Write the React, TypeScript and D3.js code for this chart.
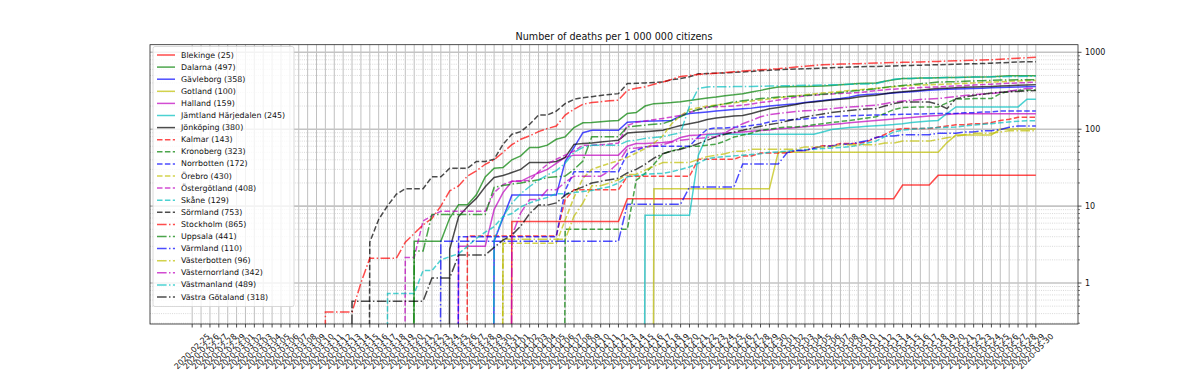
import React, { Component } from 'react';
import * as d3 from 'd3';

// one label per day, 2020-02-25 .. 2020-05-30
const dates = [
  "2020-02-25", "2020-02-26", "2020-02-27", "2020-02-28", "2020-02-29",
  "2020-03-01", "2020-03-02", "2020-03-03", "2020-03-04", "2020-03-05", "2020-03-06", "2020-03-07", "2020-03-08", "2020-03-09", "2020-03-10",
  "2020-03-11", "2020-03-12", "2020-03-13", "2020-03-14", "2020-03-15", "2020-03-16", "2020-03-17", "2020-03-18", "2020-03-19", "2020-03-20",
  "2020-03-21", "2020-03-22", "2020-03-23", "2020-03-24", "2020-03-25", "2020-03-26", "2020-03-27", "2020-03-28", "2020-03-29", "2020-03-30", "2020-03-31",
  "2020-04-01", "2020-04-02", "2020-04-03", "2020-04-04", "2020-04-05", "2020-04-06", "2020-04-07", "2020-04-08", "2020-04-09", "2020-04-10",
  "2020-04-11", "2020-04-12", "2020-04-13", "2020-04-14", "2020-04-15", "2020-04-16", "2020-04-17", "2020-04-18", "2020-04-19", "2020-04-20",
  "2020-04-21", "2020-04-22", "2020-04-23", "2020-04-24", "2020-04-25", "2020-04-26", "2020-04-27", "2020-04-28", "2020-04-29", "2020-04-30",
  "2020-05-01", "2020-05-02", "2020-05-03", "2020-05-04", "2020-05-05", "2020-05-06", "2020-05-07", "2020-05-08", "2020-05-09", "2020-05-10",
  "2020-05-11", "2020-05-12", "2020-05-13", "2020-05-14", "2020-05-15", "2020-05-16", "2020-05-17", "2020-05-18", "2020-05-19", "2020-05-20",
  "2020-05-21", "2020-05-22", "2020-05-23", "2020-05-24", "2020-05-25", "2020-05-26", "2020-05-27", "2020-05-28", "2020-05-29", "2020-05-30"
];

const yTickLabels = [1, 10, 100, 1000];

// cumulative deaths per million, one value per day (rows: feb / mar / apr / may)
const blekinge = [
  0, 0, 0, 0, 0,
  0, 0, 0, 0, 0, 0, 0, 0, 0, 0, 0, 0, 0, 0, 0, 0, 0, 0, 0, 0, 0, 0, 0, 0, 0, 0, 0, 0, 0, 0, 0,
  6.3, 6.3, 6.3, 6.3, 6.3, 6.3, 6.3, 6.3, 6.3, 6.3, 6.3, 6.3, 6.3, 12.5, 12.5, 12.5, 12.5, 12.5, 12.5, 12.5, 12.5, 12.5, 12.5, 12.5, 12.5, 12.5, 12.5, 12.5, 12.5, 12.5,
  12.5, 12.5, 12.5, 12.5, 12.5, 12.5, 12.5, 12.5, 12.5, 12.5, 12.5, 12.5, 12.5, 12.5, 18.8, 18.8, 18.8, 18.8, 25.1, 25.1, 25.1, 25.1, 25.1, 25.1, 25.1, 25.1, 25.1, 25.1, 25.1, 25.1
];
const dalarna = [
  0, 0, 0, 0, 0,
  0, 0, 0, 0, 0, 0, 0, 0, 0, 0, 0, 0, 0, 0, 0, 0, 0, 0, 0, 0, 3.5, 3.5, 3.5, 3.5, 7, 10.4, 10.4, 14, 24, 31, 31.7,
  40, 45, 57.8, 57.8, 62, 74, 79.5, 105, 121, 122, 125, 128, 130, 160, 165, 200, 215, 218, 222, 228, 236, 245, 254, 262, 272, 280, 290, 305, 320, 338,
  355, 356, 358, 360, 362, 365, 370, 378, 385, 392, 395, 398, 420, 440, 455, 458, 462, 465, 468, 470, 472, 474, 476, 478, 480, 488, 495, 497, 497, 497
];
const gavleborg = [
  0, 0, 0, 0, 0,
  0, 0, 0, 0, 0, 0, 0, 0, 0, 0, 0, 0, 0, 0, 0, 0, 0, 0, 0, 0, 0, 0, 0, 0, 0, 0, 0, 0, 0, 3.5, 7,
  13.9, 13.9, 13.9, 13.9, 13.9, 13.9, 38, 58, 90, 97, 97, 97, 97, 123, 125, 127, 128, 129, 130, 150, 160, 164, 168, 172, 176, 180, 184, 188, 194, 200,
  205, 210, 215, 222, 229, 236, 243, 250, 260, 277, 282, 286, 290, 296, 302, 308, 314, 320, 327, 330, 333, 336, 339, 342, 345, 348, 351, 354, 356, 358
];
const gotland = [
  0, 0, 0, 0, 0,
  0, 0, 0, 0, 0, 0, 0, 0, 0, 0, 0, 0, 0, 0, 0, 0, 0, 0, 0, 0, 0, 0, 0, 0, 0, 0, 0, 0, 0, 0, 0,
  0, 0, 0, 0, 0, 0, 0, 0, 0, 0, 0, 0, 0, 0, 0, 0, 16.8, 16.8, 16.8, 16.8, 16.8, 16.8, 16.8, 16.8, 16.8, 16.8, 16.8, 16.8, 16.8, 16.8,
  50.3, 50.3, 50.3, 50.3, 50.3, 50.3, 50.3, 50.3, 50.3, 50.3, 50.3, 50.3, 50.3, 50.3, 50.3, 50.3, 50.3, 50.3, 50.3, 67, 83.8, 83.8, 83.8, 83.8, 83.8, 100.5, 100.5, 100.5, 100.5, 100.5
];
const halland = [
  0, 0, 0, 0, 0,
  0, 0, 0, 0, 0, 0, 0, 0, 0, 0, 0, 0, 0, 0, 0, 0, 0, 0, 0, 0, 0, 0, 0, 0, 0, 3, 3, 3, 3, 9, 15,
  21, 21, 24, 27, 30, 36, 43, 46, 46, 46, 46, 46, 46, 60, 65, 65, 66, 67, 69, 78, 83, 84, 86, 87, 89, 90, 92, 94, 96, 98,
  101, 103, 105, 108, 110, 112, 115, 118, 121, 124, 127, 130, 133, 136, 139, 142, 145, 148, 151, 155, 159, 159, 159, 159, 159, 159, 159, 159, 159, 159
];
const jamtland = [
  0, 0, 0, 0, 0,
  0, 0, 0, 0, 0, 0, 0, 0, 0, 0, 0, 0, 0, 0, 0, 0, 0, 0, 0, 0, 0, 0, 0, 0, 0, 0, 0, 0, 0, 0, 0,
  0, 0, 0, 0, 0, 0, 0, 0, 0, 0, 0, 0, 0, 0, 0, 7.6, 7.6, 7.6, 7.6, 7.6, 7.6, 46, 84, 86, 86, 86, 86, 86, 86, 86,
  86, 86, 86, 86, 86, 92, 99, 102, 105, 107, 109, 111, 113, 115, 118, 122, 125, 128, 130, 160, 195, 195, 195, 195, 195, 195, 195, 195, 245, 245
];
const jonkoping = [
  0, 0, 0, 0, 0,
  0, 0, 0, 0, 0, 0, 0, 0, 0, 0, 0, 0, 0, 0, 0, 0, 0, 0, 0, 0, 0, 0, 0, 0, 2.75, 7.3, 9.8, 12.6, 17.8, 23.6, 25,
  27.3, 30, 36.9, 36.9, 36.9, 38, 43, 63.5, 65, 66, 68, 70, 72, 89, 91, 93, 95, 97, 104, 112, 118, 124, 134, 140, 144, 148, 151, 160, 172, 185,
  192, 200, 210, 220, 226, 232, 240, 246, 250, 262, 270, 277, 290, 300, 306, 315, 322, 330, 338, 342, 346, 350, 353, 357, 360, 364, 368, 372, 376, 380
];
const kalmar = [
  0, 0, 0, 0, 0,
  0, 0, 0, 0, 0, 0, 0, 0, 0, 0, 0, 0, 0, 0, 0, 0, 0, 0, 0, 0, 0, 0, 0, 0, 0, 0, 4.1, 4.1, 4.1, 4.1, 4.1,
  4.1, 4.1, 4.1, 4.1, 4.1, 4.1, 12.2, 16.3, 16.3, 16.3, 16.3, 16.3, 16.3, 24.4, 24.4, 24.4, 24.4, 24.4, 24.4, 24.4, 24.4, 40.7, 40.7, 40.7, 40.7, 40.7, 44.8, 44.8, 48.9, 48.9,
  48.9, 48.9, 52.9, 52.9, 57, 61, 61, 65.2, 65.2, 65.2, 69.3, 77.4, 85.5, 97.8, 101.9, 101.9, 101.9, 101.9, 106, 110, 114, 114, 118, 118, 122, 130, 134.5, 142.6, 142.6, 142.6
];
const kronoberg = [
  0, 0, 0, 0, 0,
  0, 0, 0, 0, 0, 0, 0, 0, 0, 0, 0, 0, 0, 0, 0, 0, 0, 0, 0, 0, 0, 0, 0, 0, 0, 0, 0, 0, 0, 0, 0,
  0, 0, 0, 0, 0, 0, 5, 5, 5, 5, 5, 5, 5, 5, 21.7, 26.6, 35, 48, 52, 56, 60, 60, 62, 64, 70, 79, 84, 89, 97, 100,
  104, 107, 107, 110, 114, 118, 122, 126, 130, 135, 140, 145, 160, 180, 191, 193, 195, 195, 195, 220, 248, 248, 250, 250, 250, 290, 313, 318, 323, 323
];
const norrbotten = [
  0, 0, 0, 0, 0,
  0, 0, 0, 0, 0, 0, 0, 0, 0, 0, 0, 0, 0, 0, 0, 0, 0, 0, 0, 0, 0, 0, 0, 0, 0, 4, 4, 4, 4, 4, 4,
  4, 4, 4, 4, 4, 4, 16, 28, 28, 28, 28, 28, 28, 48, 53, 59, 60, 60, 60, 60, 60, 80, 100, 104, 104, 106, 108, 112, 116, 124,
  130, 132, 134, 136, 140, 144, 146, 148, 150, 151, 152, 153, 154, 155, 156, 157, 158, 159, 160, 160, 160, 164, 164, 168, 168, 172, 172, 172, 172, 172
];
const orebro = [
  0, 0, 0, 0, 0,
  0, 0, 0, 0, 0, 0, 0, 0, 0, 0, 0, 0, 0, 0, 0, 0, 0, 0, 0, 0, 0, 0, 0, 0, 0, 0, 0, 0, 0, 0, 3.3,
  3.3, 3.3, 3.3, 3.3, 3.3, 3.3, 6.6, 13, 23, 30, 33, 36, 39, 43, 49, 56, 66, 82, 118, 150, 180, 190, 200, 206, 212, 220, 226, 233, 240, 248,
  256, 265, 272, 280, 288, 295, 302, 310, 318, 325, 332, 340, 348, 356, 364, 370, 375, 378, 382, 386, 390, 395, 400, 405, 410, 415, 420, 425, 428, 430
];
const ostergotland = [
  0, 0, 0, 0, 0,
  0, 0, 0, 0, 0, 0, 0, 0, 0, 0, 0, 0, 0, 0, 0, 0, 0, 0, 0, 2.15, 2.15, 6.4, 7.5, 8.6, 8.6, 8.6, 8.6, 8.6, 8.6, 15, 19,
  21, 21.3, 21.5, 28, 35, 40.7, 46, 52, 62, 62, 63, 64, 66, 112, 123, 128, 133, 138, 144, 151, 165, 180, 194, 196, 198, 201, 205, 213, 222, 230,
  239, 250, 262, 270, 277, 282, 287, 292, 295, 300, 308, 318, 325, 332, 338, 343, 348, 352, 355, 360, 365, 370, 375, 380, 385, 390, 395, 400, 404, 408
];
const skane = [
  0, 0, 0, 0, 0,
  0, 0, 0, 0, 0, 0, 0, 0, 0, 0, 0, 0, 0, 0, 0, 0, 0, 0.73, 0.73, 0.73, 0.73, 1.45, 1.45, 2.0, 2.2, 2.4, 3.0, 3.8, 4.6, 5.4, 7.3,
  8, 9.8, 11, 12, 13, 14.5, 14.5, 15, 15.5, 16, 17, 17.8, 20, 24, 25, 26, 26.4, 26.6, 28, 30, 32.3, 36, 41.5, 43, 44, 45, 46, 47, 48, 50,
  50.6, 52, 53, 54, 55, 56, 57, 58, 59, 62, 66, 70, 80, 92, 97, 100, 102, 104, 105, 106, 107, 110, 113, 116, 118, 121, 124, 127, 129, 129
];
const sormland = [
  0, 0, 0, 0, 0,
  0, 0, 0, 0, 0, 0, 0, 0, 0, 0, 0, 0, 0, 0, 0, 3.4, 6.7, 10.1, 14.3, 16.8, 16.8, 16.8, 24, 24, 31, 31, 31, 38, 38, 40.7, 63.5,
  86, 93, 116, 153, 153, 172, 215, 245, 257, 265, 275, 283, 290, 392, 395, 400, 405, 410, 440, 455, 480, 525, 530, 535, 540, 548, 555, 565, 575, 585,
  594, 600, 606, 612, 618, 624, 630, 636, 642, 648, 652, 655, 660, 665, 670, 675, 680, 685, 690, 695, 700, 705, 710, 716, 722, 730, 738, 750, 753, 753
];
const stockholm = [
  0, 0, 0, 0, 0,
  0, 0, 0, 0, 0, 0, 0, 0, 0, 0, 0.42, 0.42, 0.42, 0.42, 1.0, 2.1, 2.1, 2.1, 2.1, 3.4, 4.4, 5.7, 6.9, 10, 15.8, 18.3, 24.6, 28.7, 35, 40, 50,
  63, 74, 82, 93, 102, 110, 153, 182, 211, 222, 228, 234, 239, 320, 340, 355, 385, 410, 445, 485, 500, 515, 525, 535, 545, 558, 570, 580, 592, 603,
  612, 628, 645, 660, 675, 690, 697, 703, 708, 712, 718, 725, 730, 735, 740, 745, 750, 755, 762, 770, 776, 782, 788, 794, 800, 812, 825, 838, 852, 865
];
const uppsala = [
  0, 0, 0, 0, 0,
  0, 0, 0, 0, 0, 0, 0, 0, 0, 0, 0, 0, 0, 0, 0, 0, 0, 0, 0, 0, 2.6, 2.6, 7.8, 7.8, 7.8, 7.8, 7.8, 7.8, 7.8, 17.5, 18.5,
  19.3, 20, 21, 22, 23.5, 24, 24.6, 30, 38.6, 80, 80, 80, 80, 107, 110, 113, 116, 118, 130, 145, 168, 180, 192, 204, 215, 226, 235, 242, 250, 256,
  262, 266, 270, 275, 280, 285, 290, 300, 310, 318, 327, 335, 350, 362, 370, 380, 390, 400, 410, 413, 416, 420, 424, 428, 432, 435, 438, 440, 441, 441
];
const varmland = [
  0, 0, 0, 0, 0,
  0, 0, 0, 0, 0, 0, 0, 0, 0, 0, 0, 0, 0, 0, 0, 0, 0, 0, 0, 0, 0, 0, 0, 3.5, 3.5, 3.5, 3.5, 3.5, 3.5, 3.5, 3.5,
  3.5, 3.5, 3.5, 3.5, 3.5, 3.5, 3.5, 3.5, 3.5, 3.5, 3.5, 3.5, 3.5, 10.6, 10.6, 10.6, 10.6, 10.6, 10.6, 10.6, 17.7, 17.7, 17.7, 17.7, 17.7, 17.7, 35.4, 35.4, 35.4, 35.4,
  35.4, 49.6, 53, 53, 56.7, 60, 60, 63.7, 63.7, 67.3, 70.8, 77.9, 81.4, 81.4, 85, 85, 85, 85, 88.5, 88.5, 88.5, 92, 92, 95.6, 95.6, 99, 106, 110, 110, 110
];
const vasterbotten = [
  0, 0, 0, 0, 0,
  0, 0, 0, 0, 0, 0, 0, 0, 0, 0, 0, 0, 0, 0, 0, 0, 0, 0, 0, 0, 0, 0, 0, 0, 0, 0, 0, 0, 0, 0, 3.7,
  3.7, 3.7, 3.7, 3.7, 3.7, 3.7, 3.7, 7.4, 11, 18.4, 18.4, 20, 22, 25.8, 26, 29.4, 33, 36.8, 36.8, 36.8, 36.8, 40.5, 44, 46, 48, 51.5, 51.5, 55, 55, 55,
  55, 55, 55, 58.9, 58.9, 58.9, 58.9, 62.6, 62.6, 62.6, 62.6, 62.6, 66, 66, 70, 70, 70, 70, 73.6, 77.3, 81, 84.6, 88.3, 88.3, 88.3, 92, 95.7, 95.7, 95.7, 95.7
];
const vasternorrland = [
  0, 0, 0, 0, 0,
  0, 0, 0, 0, 0, 0, 0, 0, 0, 0, 0, 0, 0, 0, 0, 0, 0, 0, 0, 0, 0, 0, 0, 0, 0, 0, 0, 0, 0, 0, 0,
  4.1, 8.2, 12.2, 12.2, 16.3, 16.3, 20.4, 24.5, 24.5, 24.5, 24.5, 28.5, 36.7, 56, 57, 59, 61, 63, 68, 72, 74, 76, 78, 80, 90, 104, 118, 130, 145, 155,
  160, 165, 170, 174, 176, 180, 185, 190, 194, 198, 202, 205, 215, 226, 232, 238, 244, 248, 250, 258, 266, 274, 282, 287, 290, 300, 312, 324, 338, 342
];
const vastmanland = [
  0, 0, 0, 0, 0,
  0, 0, 0, 0, 0, 0, 0, 0, 0, 0, 0, 0, 0, 0, 0, 0, 0, 0, 0, 0, 0, 0, 0, 0, 0, 0, 0, 0, 0, 3.6, 7.3,
  10.9, 14.5, 18, 21.8, 25.4, 29, 36, 50, 58, 62, 62, 62, 62, 70, 72, 76, 78, 80, 85, 90, 200, 340, 355, 356, 357, 358, 359, 360, 362, 364,
  366, 368, 370, 372, 374, 376, 378, 380, 383, 386, 388, 390, 420, 445, 455, 458, 461, 464, 467, 470, 472, 474, 476, 478, 480, 482, 484, 486, 488, 489
];
const vastraGotaland = [
  0, 0, 0, 0, 0,
  0, 0, 0, 0, 0, 0, 0, 0, 0, 0, 0, 0, 0, 0.58, 0.58, 0.58, 0.58, 0.58, 0.58, 0.58, 0.58, 0.58, 1.16, 1.16, 1.16, 2.32, 2.32, 2.32, 2.32, 2.9, 3.6,
  4.2, 5.5, 8, 10.3, 10.3, 11, 13.9, 16, 17.8, 20, 21, 22, 23, 27, 30, 35, 42, 48, 52, 55, 59, 65, 72, 79.5, 86, 92, 97, 103, 109, 115,
  120, 128, 136, 144, 151, 158, 165, 170, 175, 180, 183, 185, 200, 215, 226, 226, 226, 226, 210, 185, 250, 262, 275, 285, 295, 303, 306, 310, 315, 318
];

const regionNames = [
  "Blekinge", "Dalarna", "Gävleborg", "Gotland", "Halland", "Jämtland Härjedalen", "Jönköping",
  "Kalmar", "Kronoberg", "Norrbotten", "Örebro", "Östergötland", "Skåne", "Sörmland",
  "Stockholm", "Uppsala", "Värmland", "Västerbotten", "Västernorrland", "Västmanland", "Västra Götaland"
];
const regionTotals = [25, 497, 358, 100, 159, 245, 380, 143, 323, 172, 430, 408, 129, 753, 865, 441, 110, 96, 342, 489, 318];
const regionSeries = [
  blekinge, dalarna, gavleborg, gotland, halland, jamtland, jonkoping,
  kalmar, kronoberg, norrbotten, orebro, ostergotland, skane, sormland,
  stockholm, uppsala, varmland, vasterbotten, vasternorrland, vastmanland, vastraGotaland
];

// matplotlib r g b y m c k, then solid / dashed / dashdot
const colors = ["#ff0000", "#008000", "#0000ff", "#bfbf00", "#bf00bf", "#00bfbf", "#000000"];
const dashes = [null, "5.5,2.4", "9.6,2.4,1.5,2.4"];

class DeathsChart extends Component {
  constructor(props) {
    super(props);
    this.myRef = React.createRef();
    this.width = 1198;
    this.height = 370;
    this.plot = {left: 150, right: 1078, top: 44.7, bottom: 324};
  }

  componentDidMount() {
    const node = this.myRef.current;
    d3.select(node).selectAll("*").remove();
    const p = this.plot;

    const svg = d3.select(node)
      .append("svg")
      .attr("width", this.width)
      .attr("height", this.height)
      .style("display", "block")
      .style("font-family", "'DejaVu Sans', sans-serif");

    svg.append("rect")
      .attr("width", this.width)
      .attr("height", this.height)
      .attr("fill", "#fff");

    const x = d3.scaleLinear()
      .domain([-4.75, dates.length - 1 + 4.75])
      .range([p.left, p.right]);

    const y = d3.scaleLog()
      .domain([0.293, 1256])
      .range([p.bottom, p.top]);

    const allTicks = y.ticks();
    const isMajor = (v) => Math.abs(Math.log10(v) - Math.round(Math.log10(v))) < 1e-9;
    const minorTicks = allTicks.filter(v => !isMajor(v));

    // grid
    const grid = svg.append("g");
    grid.selectAll(".vg")
      .data(dates)
      .enter().append("line")
      .attr("x1", (d, i) => x(i)).attr("x2", (d, i) => x(i))
      .attr("y1", p.top).attr("y2", p.bottom)
      .attr("stroke", "#b0b0b0")
      .attr("stroke-width", 0.8);

    grid.selectAll(".hm")
      .data(minorTicks)
      .enter().append("line")
      .attr("x1", p.left).attr("x2", p.right)
      .attr("y1", d => y(d)).attr("y2", d => y(d))
      .attr("stroke", "#cfcfcf")
      .attr("stroke-width", 0.8)
      .attr("stroke-dasharray", "1,1.2");

    grid.selectAll(".hM")
      .data(yTickLabels)
      .enter().append("line")
      .attr("x1", p.left).attr("x2", p.right)
      .attr("y1", d => y(d)).attr("y2", d => y(d))
      .attr("stroke", "#c4c4c4")
      .attr("stroke-width", 1.6);

    // lines
    svg.append("defs").append("clipPath")
      .attr("id", "plot-clip")
      .append("rect")
      .attr("x", p.left).attr("y", p.top)
      .attr("width", p.right - p.left)
      .attr("height", p.bottom - p.top);

    const line = d3.line()
      .x((d, i) => x(i))
      .y(d => y(d > 0 ? d : 1e-30));

    const lines = svg.append("g").attr("clip-path", "url(#plot-clip)");
    regionSeries.forEach((values, k) => {
      lines.append("path")
        .datum(values)
        .attr("fill", "none")
        .attr("stroke", colors[k % 7])
        .attr("stroke-opacity", 0.7)
        .attr("stroke-width", 1.5)
        .attr("stroke-dasharray", dashes[Math.floor(k / 7)])
        .attr("d", line);
    });

    // spines
    svg.append("rect")
      .attr("x", p.left).attr("y", p.top)
      .attr("width", p.right - p.left)
      .attr("height", p.bottom - p.top)
      .attr("fill", "none")
      .attr("stroke", "#222")
      .attr("stroke-width", 0.8);

    // x ticks and rotated labels
    const xAxis = svg.append("g");
    xAxis.selectAll("line")
      .data(dates)
      .enter().append("line")
      .attr("x1", (d, i) => x(i)).attr("x2", (d, i) => x(i))
      .attr("y1", p.bottom).attr("y2", p.bottom + 3.5)
      .attr("stroke", "#222")
      .attr("stroke-width", 0.8);

    xAxis.selectAll("text")
      .data(dates)
      .enter().append("text")
      .attr("transform", (d, i) => "translate(" + x(i) + "," + (p.bottom + 27.5) + ") rotate(-45)")
      .attr("text-anchor", "middle")
      .attr("dominant-baseline", "central")
      .attr("font-size", 8)
      .attr("fill", "#111")
      .text(d => d);

    // y axis on the right
    const yAxis = svg.append("g");
    yAxis.selectAll(".mj")
      .data(yTickLabels)
      .enter().append("line")
      .attr("x1", p.right).attr("x2", p.right + 3.5)
      .attr("y1", d => y(d)).attr("y2", d => y(d))
      .attr("stroke", "#222")
      .attr("stroke-width", 0.8);

    yAxis.selectAll(".mn")
      .data(minorTicks)
      .enter().append("line")
      .attr("x1", p.right).attr("x2", p.right + 2)
      .attr("y1", d => y(d)).attr("y2", d => y(d))
      .attr("stroke", "#222")
      .attr("stroke-width", 0.6);

    yAxis.selectAll("text")
      .data(yTickLabels)
      .enter().append("text")
      .attr("x", p.right + 7)
      .attr("y", d => y(d))
      .attr("dominant-baseline", "central")
      .attr("font-size", 8)
      .attr("fill", "#111")
      .text(d => String(d));

    // title
    svg.append("text")
      .attr("x", (p.left + p.right) / 2)
      .attr("y", 39.5)
      .attr("text-anchor", "middle")
      .attr("font-size", 9.6)
      .attr("fill", "#111")
      .text("Number of deaths per 1 000 000 citizens");

    // legend
    const legend = svg.append("g");
    legend.append("rect")
      .attr("x", 153).attr("y", 46.5)
      .attr("width", 141).attr("height", 260)
      .attr("rx", 2)
      .attr("fill", "#fff")
      .attr("fill-opacity", 0.8)
      .attr("stroke", "#d0d0d0")
      .attr("stroke-width", 0.8);

    regionNames.forEach((name, k) => {
      const ly = 55 + k * 12.1;
      legend.append("line")
        .attr("x1", 157).attr("x2", 175)
        .attr("y1", ly).attr("y2", ly)
        .attr("stroke", colors[k % 7])
        .attr("stroke-opacity", 0.7)
        .attr("stroke-width", 1.5)
        .attr("stroke-dasharray", dashes[Math.floor(k / 7)]);
      legend.append("text")
        .attr("x", 181)
        .attr("y", ly)
        .attr("dominant-baseline", "central")
        .attr("font-size", 7.9)
        .attr("fill", "#111")
        .text(name + " (" + regionTotals[k] + ")");
    });
  }

  render() {
    return (
      <div ref={this.myRef}
           style={{position: 'absolute', left: 0, top: 0,
                   width: this.width, height: this.height}}>
      </div>
    );
  }
}

export default function App() {
  return <DeathsChart />;
}
